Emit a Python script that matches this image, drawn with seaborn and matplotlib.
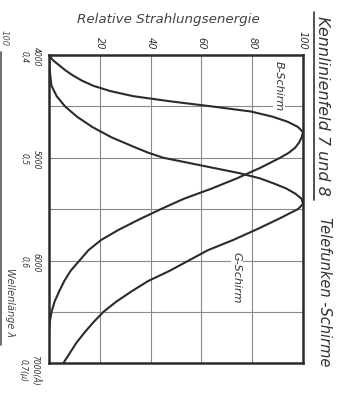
import matplotlib
matplotlib.use("Agg")
import matplotlib.pyplot as plt
from matplotlib.lines import Line2D
import seaborn as sns
import pandas as pd

# ---- data ----
b_wavelength = [4000, 4050, 4100, 4150, 4200, 4250, 4300, 4350, 4400, 4450, 4500,
                4550, 4600, 4650, 4700, 4750, 4800, 4850, 4900, 4950, 5000, 5100,
                5200, 5300, 5400, 5500, 5600, 5700, 5800, 5900, 6000, 6100, 6200,
                6300, 6400, 6500, 6600, 6700, 7000]
b_energy = [0, 1.5, 4, 6.5, 9.5, 13, 17.5, 24, 33, 47.5, 64,
            79.5, 88, 94, 98, 100, 99.5, 98.5, 97, 94.5, 91, 83,
            74, 64, 53, 44, 35.5, 27.5, 20.5, 15.5, 12, 8.5, 6,
            4, 2.2, 1, 0.3, 0, 0]

g_wavelength = [4000, 4100, 4200, 4300, 4400, 4500, 4600, 4700, 4800, 4900, 4950,
                5000, 5050, 5100, 5150, 5200, 5250, 5300, 5350, 5400, 5450, 5500,
                5600, 5700, 5800, 5900, 6000, 6100, 6200, 6300, 6400, 6500, 6600,
                6700, 6800, 6900, 7000]
g_energy = [0, 0.2, 0.5, 1, 3, 6.3, 11, 17, 24.5, 34, 39,
            45, 55, 65, 75, 83, 88.5, 93.5, 97, 99.5, 100, 98,
            90, 81.5, 72.5, 62.5, 55, 47.5, 39, 32.5, 26.5, 21.4, 17.5,
            14, 10.8, 8.2, 5.6]

energy_ticks = [20, 40, 60, 80, 100]
wave_ticks = [4000, 5000, 6000, 7000]
wave_labels = ["4000\n0,4", "5000\n0,5", "6000\n0,6", "7000(Å)\n0,7(µ)"]
series_names = ["B-Schirm", "G-Schirm"]

df = pd.DataFrame({
    "lam": b_wavelength + g_wavelength,
    "E": b_energy + g_energy,
    "Schirm": [series_names[0]] * len(b_wavelength) + [series_names[1]] * len(g_wavelength),
})

sns.set_theme(style="white")
plt.rcParams["font.family"] = ["DejaVu Sans"]
plt.rcParams["font.style"] = "italic"

W, H = 343, 396
fig = plt.figure(figsize=(W / 100, H / 100), dpi=100)
fig.patch.set_facecolor("white")

def fx(px):
    return px / W

def fy(py):
    return 1 - py / H

left, right, top, bottom = 49, 303, 55, 363.3
ax = fig.add_axes([fx(left), fy(bottom), (right - left) / W, (bottom - top) / H])
ax.set_facecolor("white")

ink = "#2b2b2b"
sns.lineplot(data=df, x="E", y="lam", hue="Schirm",
             palette={series_names[0]: ink, series_names[1]: ink},
             orient="y", estimator=None, legend=False, linewidth=1.5, ax=ax)

ax.set_xlim(0, 100)
ax.set_ylim(7000, 4000)
ax.set_xlabel("")
ax.set_ylabel("")

ax.set_xticks([0] + energy_ticks)
ax.set_xticklabels([""] + [str(v) for v in energy_ticks])
ax.set_yticks(wave_ticks)
ax.set_yticklabels(wave_labels)
ax.set_yticks([4500, 5500, 6500], minor=True)

ax.xaxis.tick_top()
ax.tick_params(axis="x", which="both", length=0, pad=4, labelsize=7,
               labelrotation=270, colors="#333333")
ax.tick_params(axis="y", which="both", length=0, pad=6, labelsize=5.5,
               labelrotation=270, colors="#333333")
for lab in ax.get_yticklabels():
    lab.set_multialignment("center")
    lab.set_linespacing(1.5)

ax.grid(True, which="both", color="#8a8a8a", linewidth=0.8)
for s in ax.spines.values():
    s.set_color("#2b2b2b")
    s.set_linewidth(1.8)

# curve labels
ax.text(90.5, 4300, series_names[0], rotation=270, fontsize=8, color="#333333",
        ha="center", va="center",
        bbox=dict(facecolor="white", edgecolor="none", pad=1))
ax.text(74, 6170, series_names[1], rotation=270, fontsize=8, color="#333333",
        ha="center", va="center",
        bbox=dict(facecolor="white", edgecolor="none", pad=1))

# titles and axis names
fig.text(fx(168), fy(19), "Relative Strahlungsenergie", fontsize=9.7, color="#444444",
         ha="center", va="center")
fig.text(fx(10), fy(303), "Wellenlänge λ", fontsize=7, color="#444444",
         rotation=270, ha="center", va="center")
fig.text(fx(322), fy(106), "Kennlinienfeld 7 und 8", fontsize=11.5, color="#333333",
         rotation=270, ha="center", va="center")
fig.add_artist(Line2D([fx(313.5), fx(313.5)], [fy(12), fy(200)], color="#333333", lw=1.2))
fig.text(fx(325), fy(292), "Telefunken -Schirme", fontsize=10.5, color="#333333",
         rotation=270, ha="center", va="center")

# remnant of neighbouring chart at the left edge
fig.text(fx(4.5), fy(38), "100", fontsize=6, color="#555555",
         rotation=270, ha="center", va="center")
fig.add_artist(Line2D([fx(1.2), fx(1.2)], [fy(52), fy(345)], color="#555555", lw=1.2))

fig.savefig("out.png", dpi=100, facecolor="white")
